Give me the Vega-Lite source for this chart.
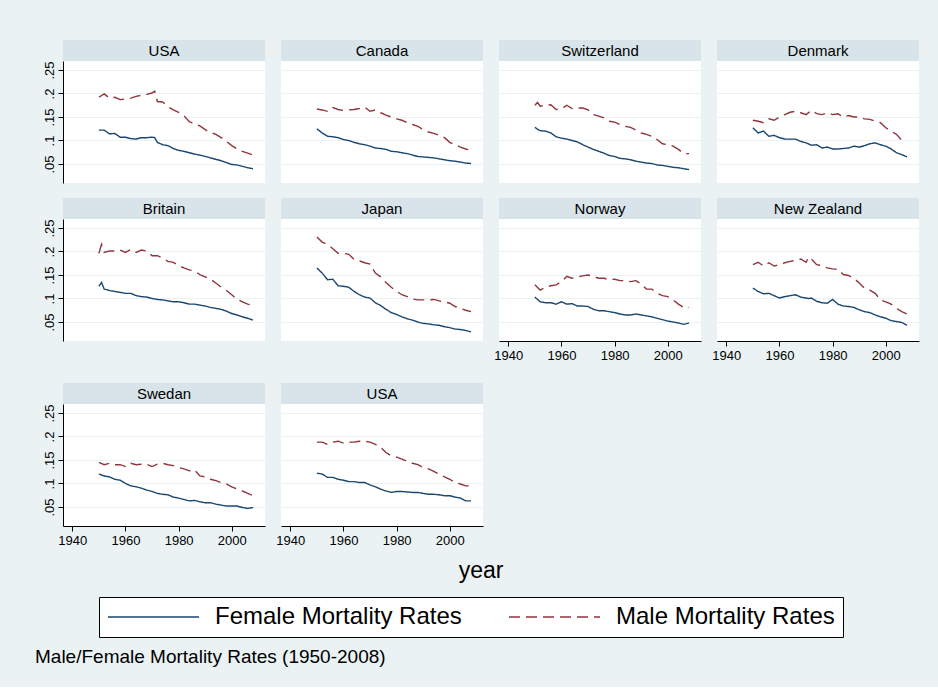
{
"$schema":"https://vega.github.io/schema/vega-lite/v6.json",
"background":"#EAF2F3",
"padding":{"left":35,"top":40,"right":20,"bottom":20},
"title":{"text":"Male/Female Mortality Rates (1950-2008)","orient":"bottom","anchor":"start","fontSize":19,"fontWeight":"normal","font":"Liberation Sans","color":"#000","offset":10,"dx":-8},
"config":{
 "font":"Liberation Sans",
 "view":{"stroke":null},
 "axis":{"labelFont":"Liberation Sans","labelFontSize":13,"labelColor":"#000","tickColor":"#000","domainColor":"#000","tickSize":5,"gridColor":"#EAF2F3","gridWidth":1,"labelOverlap":false,"labelFlush":false},
 "axisX":{"grid":false},
 "line":{"strokeWidth":1.4},
 "legend":{"direction":"horizontal","strokeColor":"#000","fillColor":"#fff","padding":8,"symbolType":"stroke","symbolSize":8281,"symbolStrokeWidth":2,"labelFontSize":24,"labelFont":"Liberation Sans","labelColor":"#000","labelOffset":15,"columnPadding":46,"clipHeight":24,"labelLimit":400}
},
"datasets":{
"names":[{"p":1,"country":"USA"},{"p":2,"country":"Canada"},{"p":3,"country":"Switzerland"},{"p":4,"country":"Denmark"},{"p":5,"country":"Britain"},{"p":6,"country":"Japan"},{"p":7,"country":"Norway"},{"p":8,"country":"New Zealand"},{"p":9,"country":"Swedan"},{"p":10,"country":"USA"}],
"rates":[
{"p":1,"year":1950,"f":0.122,"m":0.192},{"p":1,"year":1952,"f":0.122,"m":0.199},{"p":1,"year":1954,"f":0.114,"m":0.19},{"p":1,"year":1956,"f":0.115,"m":0.192},{"p":1,"year":1958,"f":0.107,"m":0.187},{"p":1,"year":1960,"f":0.107,"m":0.188},{"p":1,"year":1962,"f":0.104,"m":0.19},{"p":1,"year":1964,"f":0.103,"m":0.194},{"p":1,"year":1966,"f":0.106,"m":0.196},{"p":1,"year":1968,"f":0.106,"m":0.198},{"p":1,"year":1970,"f":0.107,"m":0.201},{"p":1,"year":1971,"f":0.106,"m":0.205},{"p":1,"year":1972,"f":0.096,"m":0.183},{"p":1,"year":1974,"f":0.091,"m":0.182},{"p":1,"year":1976,"f":0.089,"m":0.172},{"p":1,"year":1978,"f":0.083,"m":0.165},{"p":1,"year":1980,"f":0.079,"m":0.16},{"p":1,"year":1982,"f":0.077,"m":0.153},{"p":1,"year":1984,"f":0.074,"m":0.14},{"p":1,"year":1986,"f":0.071,"m":0.136},{"p":1,"year":1988,"f":0.069,"m":0.131},{"p":1,"year":1990,"f":0.066,"m":0.123},{"p":1,"year":1992,"f":0.063,"m":0.117},{"p":1,"year":1994,"f":0.06,"m":0.113},{"p":1,"year":1996,"f":0.057,"m":0.106},{"p":1,"year":1998,"f":0.053,"m":0.098},{"p":1,"year":2000,"f":0.049,"m":0.089},{"p":1,"year":2002,"f":0.048,"m":0.082},{"p":1,"year":2004,"f":0.045,"m":0.077},{"p":1,"year":2006,"f":0.042,"m":0.073},{"p":1,"year":2008,"f":0.04,"m":0.069},
{"p":2,"year":1950,"f":0.125,"m":0.167},{"p":2,"year":1952,"f":0.116,"m":0.165},{"p":2,"year":1954,"f":0.109,"m":0.162},{"p":2,"year":1956,"f":0.108,"m":0.17},{"p":2,"year":1958,"f":0.106,"m":0.166},{"p":2,"year":1960,"f":0.102,"m":0.164},{"p":2,"year":1962,"f":0.1,"m":0.165},{"p":2,"year":1964,"f":0.096,"m":0.166},{"p":2,"year":1966,"f":0.093,"m":0.168},{"p":2,"year":1968,"f":0.091,"m":0.171},{"p":2,"year":1970,"f":0.088,"m":0.162},{"p":2,"year":1972,"f":0.084,"m":0.165},{"p":2,"year":1974,"f":0.083,"m":0.159},{"p":2,"year":1976,"f":0.081,"m":0.154},{"p":2,"year":1978,"f":0.077,"m":0.15},{"p":2,"year":1980,"f":0.076,"m":0.146},{"p":2,"year":1982,"f":0.074,"m":0.143},{"p":2,"year":1984,"f":0.072,"m":0.138},{"p":2,"year":1986,"f":0.069,"m":0.134},{"p":2,"year":1988,"f":0.066,"m":0.13},{"p":2,"year":1990,"f":0.065,"m":0.123},{"p":2,"year":1992,"f":0.064,"m":0.118},{"p":2,"year":1994,"f":0.063,"m":0.115},{"p":2,"year":1996,"f":0.061,"m":0.111},{"p":2,"year":1998,"f":0.059,"m":0.106},{"p":2,"year":2000,"f":0.057,"m":0.096},{"p":2,"year":2002,"f":0.056,"m":0.091},{"p":2,"year":2004,"f":0.054,"m":0.086},{"p":2,"year":2006,"f":0.052,"m":0.082},{"p":2,"year":2008,"f":0.051,"m":0.079},
{"p":3,"year":1950,"f":0.128,"m":0.175},{"p":3,"year":1951,"f":0.124,"m":0.181},{"p":3,"year":1952,"f":0.121,"m":0.173},{"p":3,"year":1954,"f":0.12,"m":0.175},{"p":3,"year":1956,"f":0.116,"m":0.176},{"p":3,"year":1958,"f":0.108,"m":0.166},{"p":3,"year":1960,"f":0.105,"m":0.167},{"p":3,"year":1962,"f":0.103,"m":0.175},{"p":3,"year":1964,"f":0.1,"m":0.168},{"p":3,"year":1966,"f":0.097,"m":0.169},{"p":3,"year":1968,"f":0.091,"m":0.169},{"p":3,"year":1970,"f":0.086,"m":0.165},{"p":3,"year":1972,"f":0.081,"m":0.155},{"p":3,"year":1974,"f":0.077,"m":0.152},{"p":3,"year":1976,"f":0.073,"m":0.148},{"p":3,"year":1978,"f":0.068,"m":0.141},{"p":3,"year":1980,"f":0.066,"m":0.139},{"p":3,"year":1982,"f":0.062,"m":0.134},{"p":3,"year":1984,"f":0.061,"m":0.13},{"p":3,"year":1986,"f":0.059,"m":0.128},{"p":3,"year":1988,"f":0.056,"m":0.122},{"p":3,"year":1990,"f":0.054,"m":0.116},{"p":3,"year":1992,"f":0.052,"m":0.113},{"p":3,"year":1994,"f":0.051,"m":0.109},{"p":3,"year":1996,"f":0.048,"m":0.102},{"p":3,"year":1998,"f":0.047,"m":0.093},{"p":3,"year":2000,"f":0.045,"m":0.091},{"p":3,"year":2002,"f":0.043,"m":0.088},{"p":3,"year":2004,"f":0.042,"m":0.081},{"p":3,"year":2006,"f":0.04,"m":0.072},{"p":3,"year":2008,"f":0.038,"m":0.072},
{"p":4,"year":1950,"f":0.127,"m":0.143},{"p":4,"year":1952,"f":0.116,"m":0.141},{"p":4,"year":1954,"f":0.12,"m":0.138},{"p":4,"year":1956,"f":0.109,"m":0.146},{"p":4,"year":1958,"f":0.111,"m":0.143},{"p":4,"year":1960,"f":0.106,"m":0.15},{"p":4,"year":1962,"f":0.103,"m":0.155},{"p":4,"year":1964,"f":0.103,"m":0.16},{"p":4,"year":1966,"f":0.103,"m":0.162},{"p":4,"year":1968,"f":0.098,"m":0.159},{"p":4,"year":1970,"f":0.095,"m":0.155},{"p":4,"year":1972,"f":0.09,"m":0.164},{"p":4,"year":1974,"f":0.091,"m":0.157},{"p":4,"year":1976,"f":0.084,"m":0.155},{"p":4,"year":1978,"f":0.086,"m":0.159},{"p":4,"year":1980,"f":0.082,"m":0.155},{"p":4,"year":1982,"f":0.082,"m":0.157},{"p":4,"year":1984,"f":0.083,"m":0.15},{"p":4,"year":1986,"f":0.084,"m":0.153},{"p":4,"year":1988,"f":0.088,"m":0.15},{"p":4,"year":1990,"f":0.086,"m":0.15},{"p":4,"year":1992,"f":0.089,"m":0.146},{"p":4,"year":1994,"f":0.093,"m":0.145},{"p":4,"year":1996,"f":0.095,"m":0.141},{"p":4,"year":1998,"f":0.091,"m":0.138},{"p":4,"year":2000,"f":0.088,"m":0.127},{"p":4,"year":2002,"f":0.082,"m":0.12},{"p":4,"year":2004,"f":0.074,"m":0.113},{"p":4,"year":2006,"f":0.07,"m":0.101},{"p":4,"year":2008,"f":0.065,"m":0.1},
{"p":5,"year":1950,"f":0.126,"m":0.196},{"p":5,"year":1951,"f":0.134,"m":0.215},{"p":5,"year":1952,"f":0.12,"m":0.198},{"p":5,"year":1954,"f":0.117,"m":0.201},{"p":5,"year":1956,"f":0.115,"m":0.201},{"p":5,"year":1958,"f":0.113,"m":0.203},{"p":5,"year":1960,"f":0.111,"m":0.198},{"p":5,"year":1962,"f":0.111,"m":0.204},{"p":5,"year":1964,"f":0.106,"m":0.198},{"p":5,"year":1966,"f":0.104,"m":0.203},{"p":5,"year":1968,"f":0.103,"m":0.201},{"p":5,"year":1970,"f":0.1,"m":0.191},{"p":5,"year":1972,"f":0.098,"m":0.191},{"p":5,"year":1974,"f":0.097,"m":0.186},{"p":5,"year":1976,"f":0.095,"m":0.179},{"p":5,"year":1978,"f":0.093,"m":0.177},{"p":5,"year":1980,"f":0.093,"m":0.17},{"p":5,"year":1982,"f":0.091,"m":0.165},{"p":5,"year":1984,"f":0.088,"m":0.161},{"p":5,"year":1986,"f":0.088,"m":0.158},{"p":5,"year":1988,"f":0.086,"m":0.151},{"p":5,"year":1990,"f":0.084,"m":0.146},{"p":5,"year":1992,"f":0.081,"m":0.141},{"p":5,"year":1994,"f":0.079,"m":0.133},{"p":5,"year":1996,"f":0.077,"m":0.124},{"p":5,"year":1998,"f":0.073,"m":0.117},{"p":5,"year":2000,"f":0.068,"m":0.108},{"p":5,"year":2002,"f":0.065,"m":0.098},{"p":5,"year":2004,"f":0.061,"m":0.093},{"p":5,"year":2006,"f":0.058,"m":0.088},{"p":5,"year":2008,"f":0.054,"m":0.085},
{"p":6,"year":1950,"f":0.165,"m":0.231},{"p":6,"year":1952,"f":0.154,"m":0.22},{"p":6,"year":1954,"f":0.14,"m":0.215},{"p":6,"year":1956,"f":0.141,"m":0.206},{"p":6,"year":1958,"f":0.127,"m":0.196},{"p":6,"year":1960,"f":0.126,"m":0.196},{"p":6,"year":1962,"f":0.124,"m":0.194},{"p":6,"year":1964,"f":0.115,"m":0.183},{"p":6,"year":1966,"f":0.108,"m":0.18},{"p":6,"year":1968,"f":0.103,"m":0.176},{"p":6,"year":1970,"f":0.101,"m":0.173},{"p":6,"year":1972,"f":0.091,"m":0.154},{"p":6,"year":1974,"f":0.085,"m":0.146},{"p":6,"year":1976,"f":0.077,"m":0.134},{"p":6,"year":1978,"f":0.07,"m":0.124},{"p":6,"year":1980,"f":0.066,"m":0.115},{"p":6,"year":1982,"f":0.061,"m":0.108},{"p":6,"year":1984,"f":0.057,"m":0.104},{"p":6,"year":1986,"f":0.054,"m":0.099},{"p":6,"year":1988,"f":0.05,"m":0.097},{"p":6,"year":1990,"f":0.047,"m":0.097},{"p":6,"year":1992,"f":0.046,"m":0.097},{"p":6,"year":1994,"f":0.044,"m":0.098},{"p":6,"year":1996,"f":0.043,"m":0.095},{"p":6,"year":1998,"f":0.04,"m":0.093},{"p":6,"year":2000,"f":0.038,"m":0.09},{"p":6,"year":2002,"f":0.035,"m":0.083},{"p":6,"year":2004,"f":0.034,"m":0.079},{"p":6,"year":2006,"f":0.032,"m":0.075},{"p":6,"year":2008,"f":0.029,"m":0.072},
{"p":7,"year":1950,"f":0.103,"m":0.129},{"p":7,"year":1952,"f":0.093,"m":0.118},{"p":7,"year":1954,"f":0.091,"m":0.124},{"p":7,"year":1956,"f":0.091,"m":0.127},{"p":7,"year":1958,"f":0.088,"m":0.129},{"p":7,"year":1960,"f":0.093,"m":0.136},{"p":7,"year":1962,"f":0.088,"m":0.147},{"p":7,"year":1964,"f":0.089,"m":0.143},{"p":7,"year":1966,"f":0.084,"m":0.146},{"p":7,"year":1968,"f":0.084,"m":0.148},{"p":7,"year":1970,"f":0.083,"m":0.15},{"p":7,"year":1972,"f":0.077,"m":0.147},{"p":7,"year":1974,"f":0.074,"m":0.143},{"p":7,"year":1976,"f":0.074,"m":0.143},{"p":7,"year":1978,"f":0.072,"m":0.14},{"p":7,"year":1980,"f":0.07,"m":0.141},{"p":7,"year":1982,"f":0.067,"m":0.138},{"p":7,"year":1984,"f":0.065,"m":0.138},{"p":7,"year":1986,"f":0.065,"m":0.136},{"p":7,"year":1988,"f":0.067,"m":0.138},{"p":7,"year":1990,"f":0.065,"m":0.131},{"p":7,"year":1992,"f":0.063,"m":0.12},{"p":7,"year":1994,"f":0.061,"m":0.12},{"p":7,"year":1996,"f":0.058,"m":0.111},{"p":7,"year":1998,"f":0.055,"m":0.106},{"p":7,"year":2000,"f":0.052,"m":0.104},{"p":7,"year":2002,"f":0.05,"m":0.097},{"p":7,"year":2004,"f":0.048,"m":0.088},{"p":7,"year":2006,"f":0.045,"m":0.081},{"p":7,"year":2008,"f":0.048,"m":0.081},
{"p":8,"year":1950,"f":0.122,"m":0.172},{"p":8,"year":1952,"f":0.115,"m":0.177},{"p":8,"year":1954,"f":0.11,"m":0.169},{"p":8,"year":1956,"f":0.111,"m":0.176},{"p":8,"year":1958,"f":0.106,"m":0.169},{"p":8,"year":1960,"f":0.101,"m":0.172},{"p":8,"year":1962,"f":0.104,"m":0.176},{"p":8,"year":1964,"f":0.106,"m":0.179},{"p":8,"year":1966,"f":0.108,"m":0.181},{"p":8,"year":1968,"f":0.103,"m":0.184},{"p":8,"year":1970,"f":0.101,"m":0.177},{"p":8,"year":1971,"f":0.1,"m":0.188},{"p":8,"year":1972,"f":0.101,"m":0.184},{"p":8,"year":1974,"f":0.094,"m":0.172},{"p":8,"year":1976,"f":0.091,"m":0.17},{"p":8,"year":1978,"f":0.09,"m":0.165},{"p":8,"year":1980,"f":0.098,"m":0.163},{"p":8,"year":1982,"f":0.088,"m":0.162},{"p":8,"year":1984,"f":0.084,"m":0.151},{"p":8,"year":1986,"f":0.083,"m":0.149},{"p":8,"year":1988,"f":0.081,"m":0.143},{"p":8,"year":1990,"f":0.076,"m":0.133},{"p":8,"year":1992,"f":0.072,"m":0.122},{"p":8,"year":1994,"f":0.07,"m":0.118},{"p":8,"year":1996,"f":0.065,"m":0.111},{"p":8,"year":1998,"f":0.061,"m":0.097},{"p":8,"year":2000,"f":0.058,"m":0.093},{"p":8,"year":2002,"f":0.053,"m":0.088},{"p":8,"year":2004,"f":0.051,"m":0.079},{"p":8,"year":2006,"f":0.049,"m":0.072},{"p":8,"year":2008,"f":0.043,"m":0.067},
{"p":9,"year":1950,"f":0.12,"m":0.145},{"p":9,"year":1952,"f":0.116,"m":0.14},{"p":9,"year":1954,"f":0.114,"m":0.143},{"p":9,"year":1956,"f":0.109,"m":0.14},{"p":9,"year":1958,"f":0.107,"m":0.14},{"p":9,"year":1960,"f":0.1,"m":0.136},{"p":9,"year":1962,"f":0.095,"m":0.143},{"p":9,"year":1964,"f":0.093,"m":0.14},{"p":9,"year":1966,"f":0.09,"m":0.141},{"p":9,"year":1968,"f":0.086,"m":0.141},{"p":9,"year":1970,"f":0.083,"m":0.136},{"p":9,"year":1972,"f":0.079,"m":0.141},{"p":9,"year":1974,"f":0.077,"m":0.143},{"p":9,"year":1976,"f":0.076,"m":0.14},{"p":9,"year":1978,"f":0.071,"m":0.138},{"p":9,"year":1980,"f":0.069,"m":0.134},{"p":9,"year":1982,"f":0.066,"m":0.131},{"p":9,"year":1984,"f":0.063,"m":0.127},{"p":9,"year":1986,"f":0.064,"m":0.129},{"p":9,"year":1988,"f":0.061,"m":0.116},{"p":9,"year":1990,"f":0.059,"m":0.114},{"p":9,"year":1992,"f":0.059,"m":0.109},{"p":9,"year":1994,"f":0.056,"m":0.106},{"p":9,"year":1996,"f":0.054,"m":0.102},{"p":9,"year":1998,"f":0.052,"m":0.099},{"p":9,"year":2000,"f":0.052,"m":0.093},{"p":9,"year":2002,"f":0.052,"m":0.088},{"p":9,"year":2004,"f":0.049,"m":0.084},{"p":9,"year":2006,"f":0.047,"m":0.079},{"p":9,"year":2008,"f":0.049,"m":0.074},
{"p":10,"year":1950,"f":0.122,"m":0.188},{"p":10,"year":1952,"f":0.12,"m":0.188},{"p":10,"year":1954,"f":0.113,"m":0.183},{"p":10,"year":1956,"f":0.113,"m":0.188},{"p":10,"year":1958,"f":0.109,"m":0.19},{"p":10,"year":1960,"f":0.107,"m":0.186},{"p":10,"year":1962,"f":0.104,"m":0.188},{"p":10,"year":1964,"f":0.104,"m":0.188},{"p":10,"year":1966,"f":0.102,"m":0.19},{"p":10,"year":1968,"f":0.102,"m":0.19},{"p":10,"year":1970,"f":0.097,"m":0.188},{"p":10,"year":1972,"f":0.093,"m":0.183},{"p":10,"year":1974,"f":0.088,"m":0.177},{"p":10,"year":1976,"f":0.084,"m":0.166},{"p":10,"year":1978,"f":0.081,"m":0.159},{"p":10,"year":1980,"f":0.083,"m":0.156},{"p":10,"year":1982,"f":0.083,"m":0.152},{"p":10,"year":1984,"f":0.082,"m":0.147},{"p":10,"year":1986,"f":0.081,"m":0.143},{"p":10,"year":1988,"f":0.081,"m":0.14},{"p":10,"year":1990,"f":0.079,"m":0.134},{"p":10,"year":1992,"f":0.077,"m":0.131},{"p":10,"year":1994,"f":0.077,"m":0.126},{"p":10,"year":1996,"f":0.076,"m":0.12},{"p":10,"year":1998,"f":0.074,"m":0.114},{"p":10,"year":2000,"f":0.074,"m":0.109},{"p":10,"year":2002,"f":0.071,"m":0.102},{"p":10,"year":2004,"f":0.069,"m":0.099},{"p":10,"year":2006,"f":0.063,"m":0.095},{"p":10,"year":2008,"f":0.063,"m":0.095}
]},
"vconcat":[{
"title":{"text":"year","orient":"bottom","anchor":"middle","fontSize":23,"fontWeight":"normal","font":"Liberation Sans","color":"#000","offset":7},
"spacing":15,
"vconcat":[
{"hconcat":[
 {"vconcat":[
  {"width":202,"height":21,"view":{"fill":"#D8E4EA","stroke":null},"data":{"name":"names"},"transform":[{"filter":"datum.p==1"}],"mark":{"type":"text","fontSize":15,"font":"Liberation Sans","color":"#000"},"encoding":{"text":{"field":"country","type":"nominal"}}},
  {"width":202,"height":122,"view":{"fill":"#FFFFFF","stroke":null},"data":{"name":"rates"},"transform":[{"filter":"datum.p==1"},{"fold":["f","m"],"as":["sex","rate"]}],"mark":"line","encoding":{
   "x":{"field":"year","type":"quantitative","title":null,"scale":{"domain":[1936.5,2012.5],"nice":false,"zero":false},"axis":null},
   "y":{"field":"rate","type":"quantitative","title":null,"scale":{"domain":[0.0096,0.2691],"nice":false,"zero":false},"axis":{"values":[0.05,0.1,0.15,0.2,0.25],"labelExpr":"replace(format(datum.value,'.2~f'),'0.','.')","labelAngle":270,"labelAlign":"center","labelBaseline":"bottom","labelPadding":2,"grid":true}},
   "color":{"field":"sex","type":"nominal","title":null,"scale":{"domain":["f","m"],"range":["#1A476F","#90353B"]},"legend":{"orient":"none","legendX":36,"legendY":557,"labelExpr":"datum.value=='f'?'Female Mortality Rates':'Male Mortality Rates'"}},
   "strokeDash":{"field":"sex","type":"nominal","title":null,"scale":{"domain":["f","m"],"range":[[1,0],[11,6]]},"legend":{"orient":"none","legendX":36,"legendY":557,"labelExpr":"datum.value=='f'?'Female Mortality Rates':'Male Mortality Rates'"}}}}
 ],"spacing":0,"bounds":"flush"},
 {"vconcat":[
  {"width":202,"height":21,"view":{"fill":"#D8E4EA","stroke":null},"data":{"name":"names"},"transform":[{"filter":"datum.p==2"}],"mark":{"type":"text","fontSize":15,"font":"Liberation Sans","color":"#000"},"encoding":{"text":{"field":"country","type":"nominal"}}},
  {"width":202,"height":122,"view":{"fill":"#FFFFFF","stroke":null},"data":{"name":"rates"},"transform":[{"filter":"datum.p==2"},{"fold":["f","m"],"as":["sex","rate"]}],"mark":"line","encoding":{
   "x":{"field":"year","type":"quantitative","title":null,"scale":{"domain":[1936.5,2012.5],"nice":false,"zero":false},"axis":null},
   "y":{"field":"rate","type":"quantitative","title":null,"scale":{"domain":[0.0096,0.2691],"nice":false,"zero":false},"axis":{"values":[0.05,0.1,0.15,0.2,0.25],"labels":false,"ticks":false,"domain":false,"grid":true}},
   "color":{"field":"sex","type":"nominal","title":null,"scale":{"domain":["f","m"],"range":["#1A476F","#90353B"]},"legend":{"orient":"none","legendX":36,"legendY":557,"labelExpr":"datum.value=='f'?'Female Mortality Rates':'Male Mortality Rates'"}},
   "strokeDash":{"field":"sex","type":"nominal","title":null,"scale":{"domain":["f","m"],"range":[[1,0],[11,6]]},"legend":{"orient":"none","legendX":36,"legendY":557,"labelExpr":"datum.value=='f'?'Female Mortality Rates':'Male Mortality Rates'"}}}}
 ],"spacing":0,"bounds":"flush"},
 {"vconcat":[
  {"width":202,"height":21,"view":{"fill":"#D8E4EA","stroke":null},"data":{"name":"names"},"transform":[{"filter":"datum.p==3"}],"mark":{"type":"text","fontSize":15,"font":"Liberation Sans","color":"#000"},"encoding":{"text":{"field":"country","type":"nominal"}}},
  {"width":202,"height":122,"view":{"fill":"#FFFFFF","stroke":null},"data":{"name":"rates"},"transform":[{"filter":"datum.p==3"},{"fold":["f","m"],"as":["sex","rate"]}],"mark":"line","encoding":{
   "x":{"field":"year","type":"quantitative","title":null,"scale":{"domain":[1936.5,2012.5],"nice":false,"zero":false},"axis":null},
   "y":{"field":"rate","type":"quantitative","title":null,"scale":{"domain":[0.0096,0.2691],"nice":false,"zero":false},"axis":{"values":[0.05,0.1,0.15,0.2,0.25],"labels":false,"ticks":false,"domain":false,"grid":true}},
   "color":{"field":"sex","type":"nominal","title":null,"scale":{"domain":["f","m"],"range":["#1A476F","#90353B"]},"legend":{"orient":"none","legendX":36,"legendY":557,"labelExpr":"datum.value=='f'?'Female Mortality Rates':'Male Mortality Rates'"}},
   "strokeDash":{"field":"sex","type":"nominal","title":null,"scale":{"domain":["f","m"],"range":[[1,0],[11,6]]},"legend":{"orient":"none","legendX":36,"legendY":557,"labelExpr":"datum.value=='f'?'Female Mortality Rates':'Male Mortality Rates'"}}}}
 ],"spacing":0,"bounds":"flush"},
 {"vconcat":[
  {"width":202,"height":21,"view":{"fill":"#D8E4EA","stroke":null},"data":{"name":"names"},"transform":[{"filter":"datum.p==4"}],"mark":{"type":"text","fontSize":15,"font":"Liberation Sans","color":"#000"},"encoding":{"text":{"field":"country","type":"nominal"}}},
  {"width":202,"height":122,"view":{"fill":"#FFFFFF","stroke":null},"data":{"name":"rates"},"transform":[{"filter":"datum.p==4"},{"fold":["f","m"],"as":["sex","rate"]}],"mark":"line","encoding":{
   "x":{"field":"year","type":"quantitative","title":null,"scale":{"domain":[1936.5,2012.5],"nice":false,"zero":false},"axis":null},
   "y":{"field":"rate","type":"quantitative","title":null,"scale":{"domain":[0.0096,0.2691],"nice":false,"zero":false},"axis":{"values":[0.05,0.1,0.15,0.2,0.25],"labels":false,"ticks":false,"domain":false,"grid":true}},
   "color":{"field":"sex","type":"nominal","title":null,"scale":{"domain":["f","m"],"range":["#1A476F","#90353B"]},"legend":{"orient":"none","legendX":36,"legendY":557,"labelExpr":"datum.value=='f'?'Female Mortality Rates':'Male Mortality Rates'"}},
   "strokeDash":{"field":"sex","type":"nominal","title":null,"scale":{"domain":["f","m"],"range":[[1,0],[11,6]]},"legend":{"orient":"none","legendX":36,"legendY":557,"labelExpr":"datum.value=='f'?'Female Mortality Rates':'Male Mortality Rates'"}}}}
 ],"spacing":0,"bounds":"flush"}
],"spacing":16},
{"hconcat":[
 {"vconcat":[
  {"width":202,"height":21,"view":{"fill":"#D8E4EA","stroke":null},"data":{"name":"names"},"transform":[{"filter":"datum.p==5"}],"mark":{"type":"text","fontSize":15,"font":"Liberation Sans","color":"#000"},"encoding":{"text":{"field":"country","type":"nominal"}}},
  {"width":202,"height":122,"view":{"fill":"#FFFFFF","stroke":null},"data":{"name":"rates"},"transform":[{"filter":"datum.p==5"},{"fold":["f","m"],"as":["sex","rate"]}],"mark":"line","encoding":{
   "x":{"field":"year","type":"quantitative","title":null,"scale":{"domain":[1936.5,2012.5],"nice":false,"zero":false},"axis":null},
   "y":{"field":"rate","type":"quantitative","title":null,"scale":{"domain":[0.0096,0.2691],"nice":false,"zero":false},"axis":{"values":[0.05,0.1,0.15,0.2,0.25],"labelExpr":"replace(format(datum.value,'.2~f'),'0.','.')","labelAngle":270,"labelAlign":"center","labelBaseline":"bottom","labelPadding":2,"grid":true}},
   "color":{"field":"sex","type":"nominal","title":null,"scale":{"domain":["f","m"],"range":["#1A476F","#90353B"]},"legend":{"orient":"none","legendX":36,"legendY":557,"labelExpr":"datum.value=='f'?'Female Mortality Rates':'Male Mortality Rates'"}},
   "strokeDash":{"field":"sex","type":"nominal","title":null,"scale":{"domain":["f","m"],"range":[[1,0],[11,6]]},"legend":{"orient":"none","legendX":36,"legendY":557,"labelExpr":"datum.value=='f'?'Female Mortality Rates':'Male Mortality Rates'"}}}}
 ],"spacing":0,"bounds":"flush"},
 {"vconcat":[
  {"width":202,"height":21,"view":{"fill":"#D8E4EA","stroke":null},"data":{"name":"names"},"transform":[{"filter":"datum.p==6"}],"mark":{"type":"text","fontSize":15,"font":"Liberation Sans","color":"#000"},"encoding":{"text":{"field":"country","type":"nominal"}}},
  {"width":202,"height":122,"view":{"fill":"#FFFFFF","stroke":null},"data":{"name":"rates"},"transform":[{"filter":"datum.p==6"},{"fold":["f","m"],"as":["sex","rate"]}],"mark":"line","encoding":{
   "x":{"field":"year","type":"quantitative","title":null,"scale":{"domain":[1936.5,2012.5],"nice":false,"zero":false},"axis":null},
   "y":{"field":"rate","type":"quantitative","title":null,"scale":{"domain":[0.0096,0.2691],"nice":false,"zero":false},"axis":{"values":[0.05,0.1,0.15,0.2,0.25],"labels":false,"ticks":false,"domain":false,"grid":true}},
   "color":{"field":"sex","type":"nominal","title":null,"scale":{"domain":["f","m"],"range":["#1A476F","#90353B"]},"legend":{"orient":"none","legendX":36,"legendY":557,"labelExpr":"datum.value=='f'?'Female Mortality Rates':'Male Mortality Rates'"}},
   "strokeDash":{"field":"sex","type":"nominal","title":null,"scale":{"domain":["f","m"],"range":[[1,0],[11,6]]},"legend":{"orient":"none","legendX":36,"legendY":557,"labelExpr":"datum.value=='f'?'Female Mortality Rates':'Male Mortality Rates'"}}}}
 ],"spacing":0,"bounds":"flush"},
 {"vconcat":[
  {"width":202,"height":21,"view":{"fill":"#D8E4EA","stroke":null},"data":{"name":"names"},"transform":[{"filter":"datum.p==7"}],"mark":{"type":"text","fontSize":15,"font":"Liberation Sans","color":"#000"},"encoding":{"text":{"field":"country","type":"nominal"}}},
  {"width":202,"height":122,"view":{"fill":"#FFFFFF","stroke":null},"data":{"name":"rates"},"transform":[{"filter":"datum.p==7"},{"fold":["f","m"],"as":["sex","rate"]}],"mark":"line","encoding":{
   "x":{"field":"year","type":"quantitative","title":null,"scale":{"domain":[1936.5,2012.5],"nice":false,"zero":false},"axis":{"values":[1940,1960,1980,2000],"format":"d","labelPadding":3,"minExtent":27}},
   "y":{"field":"rate","type":"quantitative","title":null,"scale":{"domain":[0.0096,0.2691],"nice":false,"zero":false},"axis":{"values":[0.05,0.1,0.15,0.2,0.25],"labels":false,"ticks":false,"domain":false,"grid":true}},
   "color":{"field":"sex","type":"nominal","title":null,"scale":{"domain":["f","m"],"range":["#1A476F","#90353B"]},"legend":{"orient":"none","legendX":36,"legendY":557,"labelExpr":"datum.value=='f'?'Female Mortality Rates':'Male Mortality Rates'"}},
   "strokeDash":{"field":"sex","type":"nominal","title":null,"scale":{"domain":["f","m"],"range":[[1,0],[11,6]]},"legend":{"orient":"none","legendX":36,"legendY":557,"labelExpr":"datum.value=='f'?'Female Mortality Rates':'Male Mortality Rates'"}}}}
 ],"spacing":0,"bounds":"flush"},
 {"vconcat":[
  {"width":202,"height":21,"view":{"fill":"#D8E4EA","stroke":null},"data":{"name":"names"},"transform":[{"filter":"datum.p==8"}],"mark":{"type":"text","fontSize":15,"font":"Liberation Sans","color":"#000"},"encoding":{"text":{"field":"country","type":"nominal"}}},
  {"width":202,"height":122,"view":{"fill":"#FFFFFF","stroke":null},"data":{"name":"rates"},"transform":[{"filter":"datum.p==8"},{"fold":["f","m"],"as":["sex","rate"]}],"mark":"line","encoding":{
   "x":{"field":"year","type":"quantitative","title":null,"scale":{"domain":[1936.5,2012.5],"nice":false,"zero":false},"axis":{"values":[1940,1960,1980,2000],"format":"d","labelPadding":3,"minExtent":27}},
   "y":{"field":"rate","type":"quantitative","title":null,"scale":{"domain":[0.0096,0.2691],"nice":false,"zero":false},"axis":{"values":[0.05,0.1,0.15,0.2,0.25],"labels":false,"ticks":false,"domain":false,"grid":true}},
   "color":{"field":"sex","type":"nominal","title":null,"scale":{"domain":["f","m"],"range":["#1A476F","#90353B"]},"legend":{"orient":"none","legendX":36,"legendY":557,"labelExpr":"datum.value=='f'?'Female Mortality Rates':'Male Mortality Rates'"}},
   "strokeDash":{"field":"sex","type":"nominal","title":null,"scale":{"domain":["f","m"],"range":[[1,0],[11,6]]},"legend":{"orient":"none","legendX":36,"legendY":557,"labelExpr":"datum.value=='f'?'Female Mortality Rates':'Male Mortality Rates'"}}}}
 ],"spacing":0,"bounds":"flush"}
],"spacing":10,"align":"all"},
{"hconcat":[
 {"vconcat":[
  {"width":202,"height":21,"view":{"fill":"#D8E4EA","stroke":null},"data":{"name":"names"},"transform":[{"filter":"datum.p==9"}],"mark":{"type":"text","fontSize":15,"font":"Liberation Sans","color":"#000"},"encoding":{"text":{"field":"country","type":"nominal"}}},
  {"width":202,"height":122,"view":{"fill":"#FFFFFF","stroke":null},"data":{"name":"rates"},"transform":[{"filter":"datum.p==9"},{"fold":["f","m"],"as":["sex","rate"]}],"mark":"line","encoding":{
   "x":{"field":"year","type":"quantitative","title":null,"scale":{"domain":[1936.5,2012.5],"nice":false,"zero":false},"axis":{"values":[1940,1960,1980,2000],"format":"d","labelPadding":3,"minExtent":27}},
   "y":{"field":"rate","type":"quantitative","title":null,"scale":{"domain":[0.0096,0.2691],"nice":false,"zero":false},"axis":{"values":[0.05,0.1,0.15,0.2,0.25],"labelExpr":"replace(format(datum.value,'.2~f'),'0.','.')","labelAngle":270,"labelAlign":"center","labelBaseline":"bottom","labelPadding":2,"grid":true}},
   "color":{"field":"sex","type":"nominal","title":null,"scale":{"domain":["f","m"],"range":["#1A476F","#90353B"]},"legend":{"orient":"none","legendX":36,"legendY":557,"labelExpr":"datum.value=='f'?'Female Mortality Rates':'Male Mortality Rates'"}},
   "strokeDash":{"field":"sex","type":"nominal","title":null,"scale":{"domain":["f","m"],"range":[[1,0],[11,6]]},"legend":{"orient":"none","legendX":36,"legendY":557,"labelExpr":"datum.value=='f'?'Female Mortality Rates':'Male Mortality Rates'"}}}}
 ],"spacing":0,"bounds":"flush"},
 {"vconcat":[
  {"width":202,"height":21,"view":{"fill":"#D8E4EA","stroke":null},"data":{"name":"names"},"transform":[{"filter":"datum.p==10"}],"mark":{"type":"text","fontSize":15,"font":"Liberation Sans","color":"#000"},"encoding":{"text":{"field":"country","type":"nominal"}}},
  {"width":202,"height":122,"view":{"fill":"#FFFFFF","stroke":null},"data":{"name":"rates"},"transform":[{"filter":"datum.p==10"},{"fold":["f","m"],"as":["sex","rate"]}],"mark":"line","encoding":{
   "x":{"field":"year","type":"quantitative","title":null,"scale":{"domain":[1936.5,2012.5],"nice":false,"zero":false},"axis":{"values":[1940,1960,1980,2000],"format":"d","labelPadding":3,"minExtent":27}},
   "y":{"field":"rate","type":"quantitative","title":null,"scale":{"domain":[0.0096,0.2691],"nice":false,"zero":false},"axis":{"values":[0.05,0.1,0.15,0.2,0.25],"labels":false,"ticks":false,"domain":false,"grid":true}},
   "color":{"field":"sex","type":"nominal","title":null,"scale":{"domain":["f","m"],"range":["#1A476F","#90353B"]},"legend":{"orient":"none","legendX":36,"legendY":557,"labelExpr":"datum.value=='f'?'Female Mortality Rates':'Male Mortality Rates'"}},
   "strokeDash":{"field":"sex","type":"nominal","title":null,"scale":{"domain":["f","m"],"range":[[1,0],[11,6]]},"legend":{"orient":"none","legendX":36,"legendY":557,"labelExpr":"datum.value=='f'?'Female Mortality Rates':'Male Mortality Rates'"}}}}
 ],"spacing":0,"bounds":"flush"}
],"spacing":10,"align":"all"}
]}]
}
